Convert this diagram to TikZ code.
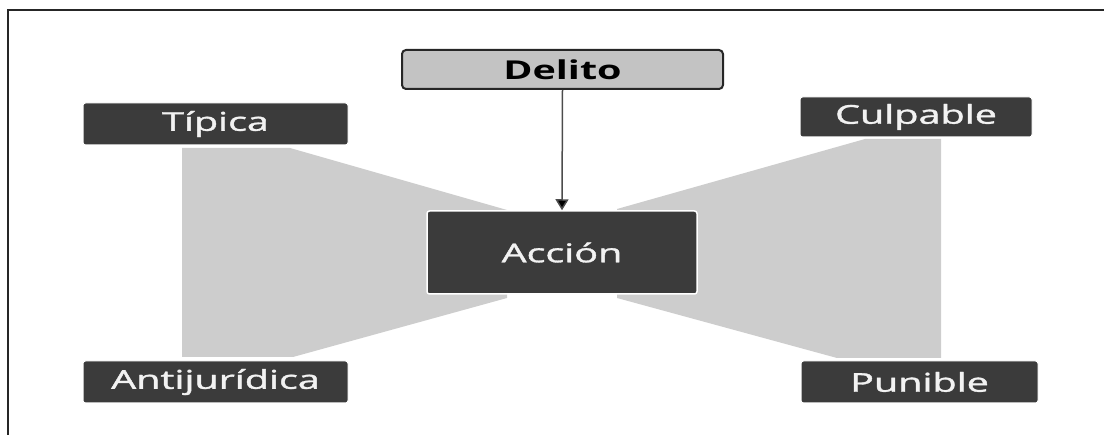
\documentclass[tikz,border=0pt]{standalone}
\usepackage{fontspec}
\setmainfont{Open Sans}
\newfontfamily\boxfont{Open Sans}[RawFeature={embolden=1.2}]
\usetikzlibrary{arrows.meta}
\definecolor{boxdark}{HTML}{3B3B3B}
\definecolor{wedge}{HTML}{CDCDCD}
\definecolor{topfill}{HTML}{C3C3C3}
\definecolor{topline}{HTML}{262626}
\definecolor{boxtext}{HTML}{F2F2F2}
\tikzset{
  darkbox/.style={draw=white, line width=1pt, fill=boxdark, rounded corners=2.5pt,
    inner sep=0pt, text=boxtext, font=\boxfont\fontsize{26}{30}\selectfont},
  headbox/.style={draw=topline, line width=2pt, fill=topfill, rounded corners=4pt,
    inner sep=0pt, text=black, font=\fontsize{26}{30}\selectfont\bfseries},
  wedgefill/.style={fill=wedge, draw=none},
  frameline/.style={line width=2pt, draw=black!85}
}
\newcommand{\wide}[1]{\scalebox{1.52}[1]{#1}}
\begin{document}
\begin{tikzpicture}[x=1pt,y=-1pt]
\useasboundingbox (0,0) rectangle (1104,435);
% frame
\coordinate (fTL) at (8,10);
\coordinate (fTR) at (1104,10);
\coordinate (fBL) at (8,435);
\draw[frameline] (fTR) -- (fTL) -- (fBL);
% grey wedges
\fill[wedgefill] (182,148) -- (290,148) -- (507,210) -- (507,298) -- (293,357) -- (182,357) -- cycle;
\fill[wedgefill] (617,209) -- (865,139) -- (941,139) -- (941,358) -- (837,358) -- (617,298) -- cycle;
% nodes
\node[headbox, minimum width=321pt, minimum height=39pt] (delito) at (562.5,69.5) {\wide{Delito}};
\node[darkbox, minimum width=270pt, minimum height=83pt, line width=1.5pt] (accion) at (562,252.5) {\wide{Acción}};
\node[darkbox, minimum width=265pt, minimum height=42pt] (tipica) at (215.5,124) {\wide{Típica}};
\node[darkbox, minimum width=265pt, minimum height=42pt] (antij) at (215.5,382) {\wide{Antijurídica}};
\node[darkbox, minimum width=232pt, minimum height=40pt] (culp) at (916,117) {\wide{Culpable}};
\node[darkbox, minimum width=237pt, minimum height=42pt] (pun) at (919.5,382) {\wide{Punible}};
% arrow
\draw[line width=1.5pt, draw=black!70, -{Triangle[width=13pt,length=11pt,fill=black]}] (delito.south) -- (accion.north);
\end{tikzpicture}
\end{document}
